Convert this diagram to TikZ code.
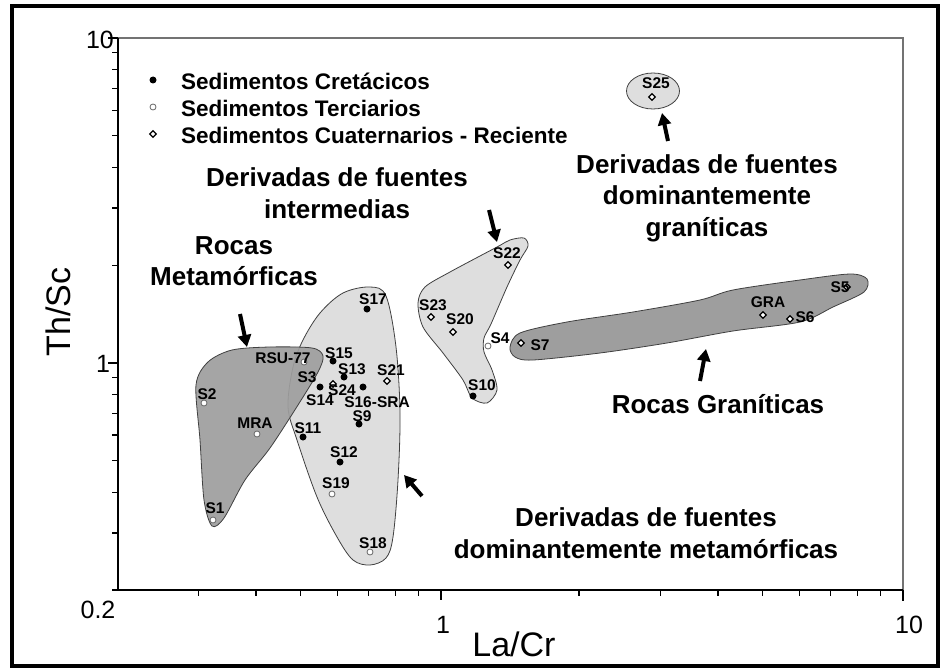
\documentclass[tikz,border=0pt]{standalone}
\usepackage{fontspec}
\setmainfont{Liberation Sans}
\usetikzlibrary{arrows.meta,shapes.geometric}
\begin{document}
\begin{tikzpicture}[x=1pt,y=-1pt,
  darkreg/.style={fill=black!38, draw=black!75, line width=0.8pt},
  lightreg/.style={fill=black!13, draw=black!75, line width=0.8pt},
  big/.style={font=\bfseries\fontsize{26}{31.5}\selectfont, align=center, inner sep=0pt},
  leg/.style={font=\bfseries\fontsize{22.5}{27}\selectfont, anchor=west, inner sep=0pt},
  lab/.style={font=\bfseries\fontsize{15.5}{18}\selectfont, inner sep=0pt},
  ticklab/.style={font=\fontsize{25}{30}\selectfont, inner sep=0pt},
  axtitle/.style={font=\fontsize{34}{40}\selectfont, inner sep=0pt},
  cret/.style={circle, fill=black, inner sep=0pt, minimum size=7pt},
  terc/.style={circle, draw=black!60, fill=white, line width=0.8pt, inner sep=0pt, minimum size=6pt},
  cuat/.style={diamond, draw=black, fill=white, line width=1.2pt, inner sep=0pt, minimum size=7pt},
  pointer/.style={line width=4pt, -{Triangle[length=12pt,width=13pt]}},
]
\useasboundingbox (0,0) rectangle (943,669);
\fill[white] (0,0) rectangle (943,669);
% outer frame
\draw[line width=4pt] (12,6) rectangle (938,666);

% regions
\draw[lightreg] plot[smooth cycle, tension=0.55] coordinates {
 (370,287) (386,296) (396,347) (400,413) (398,480) (393,537) (386,558) (370,565)
 (353,560) (337,537) (317,497) (297,440) (288,407) (293,367) (303,340) (320,313) (343,293)};
\draw[darkreg, fill opacity=0.92] plot[smooth cycle, tension=0.5] coordinates {
 (196,385) (200,440) (204,500) (212,526) (224,518) (245,480) (270,448) (298,405)
 (318,372) (323,356) (312,348) (270,347) (232,350) (208,362)};
\draw[lightreg] plot[smooth cycle, tension=0.5] coordinates {
 (524,238) (510,240) (497,247) (450,272) (425,287) (418,303) (423,327) (443,353)
 (463,380) (472,398) (487,403) (497,390) (492,370) (484,352) (484,338) (491,324)
 (507,287) (520,260) (528,246)};
\draw[darkreg] plot[smooth cycle, tension=0.5] coordinates {
 (510,347) (520,333) (567,322) (633,312) (700,300) (733,290) (800,280) (850,274)
 (867,279) (864,292) (833,307) (800,322) (733,331) (667,343) (600,353) (533,360) (515,357)};
\draw[lightreg] (653,91) ellipse [x radius=26.5, y radius=18];

% points: Cretacicos
\node[cret] (p17) at (367,309) {};
\node[cret] (p15) at (333,361) {};
\node[cret] (p13) at (344,377) {};
\node[cret] (p14) at (320,387) {};
\node[cret] (p16) at (363,387) {};
\node[cret] (p9) at (359,424) {};
\node[cret] (p11) at (303,437) {};
\node[cret] (p12) at (340,462) {};
\node[cret] (p10) at (473,396) {};
% Terciarios
\node[terc] (prsu) at (304,362) {};
\node[terc] (pmra) at (257,434) {};
\node[terc] (p2) at (204,403) {};
\node[terc] (p1) at (213,520) {};
\node[terc] (p19) at (332,494) {};
\node[terc] (p18) at (370,552) {};
\node[terc] (p4) at (488,346) {};
% Cuaternarios
\node[cuat] (p21) at (387,381) {};
\node[cuat] (p24) at (333,384) {};
\node[cuat] (p22) at (508,265) {};
\node[cuat] (p23) at (431,317) {};
\node[cuat] (p20) at (453,332) {};
\node[cuat] (p25) at (652,97) {};
\node[cuat] (pgra) at (763,315) {};
\node[cuat] (p7) at (521,343) {};
\node[cuat] (p6) at (790,319) {};
\node[cuat] (p5) at (847,287) {};

% sample labels
\node[lab] (l17) at (373,299) {S17};
\node[lab] (l15) at (339,353) {S15};
\node[lab] (l13) at (352,369) {S13};
\node[lab] (l14) at (320,400) {S14};
\node[lab] (l16) at (377,402) {S16-SRA};
\node[lab] (l9) at (362,416) {S9};
\node[lab] (l11) at (308,428) {S11};
\node[lab] (l12) at (344,452) {S12};
\node[lab] (l10) at (482,385) {S10};
\node[lab] (lrsu) at (283,358) {RSU-77};
\node[lab] (l3) at (307,377) {S3};
\node[lab] (lmra) at (255,423) {MRA};
\node[lab] (l2) at (207,394) {S2};
\node[lab] (l1) at (215,508) {S1};
\node[lab] (l19) at (336,483) {S19};
\node[lab] (l18) at (373,543) {S18};
\node[lab] (l4) at (500,338) {S4};
\node[lab] (l21) at (391,370) {S21};
\node[lab] (l24) at (342,390) {S24};
\node[lab] (l22) at (507,253) {S22};
\node[lab] (l23) at (433,305) {S23};
\node[lab] (l20) at (460,319) {S20};
\node[lab] (l25) at (656,83) {S25};
\node[lab] (lgra) at (768,302) {GRA};
\node[lab] (l7) at (540,345) {S7};
\node[lab] (l6) at (805,317) {S6};
\node[lab] (l5) at (840,287) {S5};

% axes
\draw[black!55, line width=1.2pt] (118,38) -- (903,38) -- (903,590);
\draw[line width=2pt] (118,38) -- (118,590) -- (903,590);
\foreach \v in {0.3,0.4,0.5,0.6,0.7,0.8,0.9,2,3,4,5,6,7,8,9} {
  \pgfmathsetmacro\xx{117+462*log10(\v/0.2)}
  \draw[line width=1.2pt] (\xx,590) -- (\xx,596);
  \pgfmathsetmacro\yy{363-325*log10(\v)}
  \draw[line width=1.2pt] (118,\yy) -- (112,\yy);
}
\draw[line width=1.2pt] (441,590) -- (441,600);
\draw[line width=1.2pt] (903,590) -- (903,601);
\draw[line width=1.2pt] (118,363) -- (108,363);
\draw[line width=1.2pt] (118,38) -- (108,38);
\draw[line width=1.2pt] (118,590) -- (112,590);
\node[ticklab] (t10y) at (100,40) {10};
\node[ticklab] (t1y) at (103,364) {1};
\node[ticklab] (t02) at (98,610) {0.2};
\node[ticklab] (t1x) at (443,625) {1};
\node[ticklab] (t10x) at (909,625) {10};
\node[axtitle] (xt) at (514,644) {La/Cr};
\node[axtitle, rotate=90] (yt) at (58,312) {Th/Sc};

% legend
\node[cret] (m1) at (153,80) {};
\node[terc] (m2) at (153,107) {};
\node[cuat] (m3) at (153,134) {};
\node[leg] (g1) at (181,81) {Sedimentos Cretácicos};
\node[leg] (g2) at (181,108) {Sedimentos Terciarios};
\node[leg] (g3) at (181,135) {Sedimentos Cuaternarios - Reciente};

% big labels
\node[big] (bint) at (337,193) {Derivadas de fuentes\\intermedias};
\node[big] (bmet) at (234,261) {Rocas\\Metamórficas};
\node[big] (bgra) at (707,198) {Derivadas de fuentes\\dominantemente\\graníticas};
\node[big] (broc) at (718,404) {Rocas Graníticas};
\node[big] (bdm) at (646,533) {Derivadas de fuentes\\dominantemente metamórficas};

% arrows
\coordinate (a1s) at (240,314); \coordinate (a1e) at (247,347);
\coordinate (a2s) at (489,210); \coordinate (a2e) at (497,242);
\coordinate (a3s) at (668,141); \coordinate (a3e) at (662,113);
\coordinate (a4s) at (700,381); \coordinate (a4e) at (706,349);
\coordinate (a5s) at (422,496); \coordinate (a5e) at (404,475);
\draw[pointer] (a1s) -- (a1e);
\draw[pointer] (a2s) -- (a2e);
\draw[pointer] (a3s) -- (a3e);
\draw[pointer] (a4s) -- (a4e);
\draw[pointer] (a5s) -- (a5e);
\end{tikzpicture}
\end{document}
